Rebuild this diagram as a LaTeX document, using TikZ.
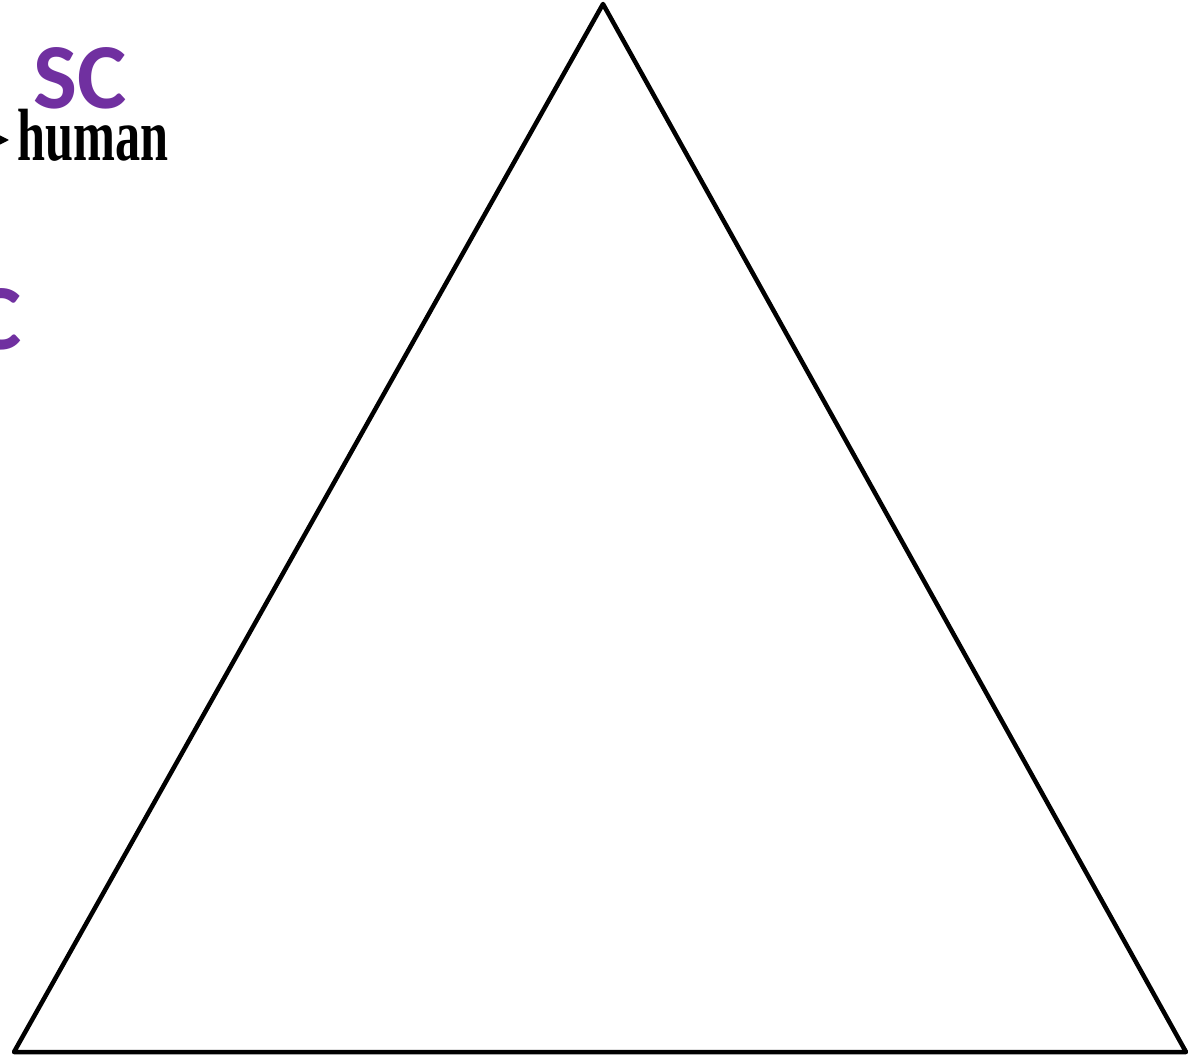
\documentclass[tikz,border=0pt]{standalone}
\usepackage{fontspec}
\setmainfont{Liberation Serif}
\newfontfamily\labelfont{Carlito}
\definecolor{scpurple}{HTML}{7030A0}
\usetikzlibrary{arrows.meta}
\begin{document}
\begin{tikzpicture}[x=1pt,y=-1pt,
  tri/.style={line width=4.5pt, line join=round},
  purplelabel/.style={inner sep=0pt, text=scpurple, font=\labelfont\bfseries\fontsize{93}{93}\selectfont},
  humanlabel/.style={inner sep=0pt, font=\bfseries\fontsize{74}{74}\selectfont, xscale=0.68, anchor=base west}
]
\useasboundingbox (0,0) rectangle (1190,1056);
\clip (0,0) rectangle (1190,1056);
% triangle
\coordinate (apex) at (603,4);
\coordinate (bl) at (14,1052);
\coordinate (br) at (1186,1052);
\draw[tri] (apex) -- (br) -- (bl) -- cycle;
% labels
\node[purplelabel, anchor=base] (sc) at (80,109) {SC};
\node[humanlabel] (human) at (17,161) {human};
\coordinate (arrstart) at (-40,140);
\coordinate (arrend) at (9,140);
\draw[line width=2.5pt, -{Stealth[length=12pt,width=12pt]}] (arrstart) -- (arrend);
\node[purplelabel, anchor=base east] (c2) at (22,349) {C};
\end{tikzpicture}
\end{document}
